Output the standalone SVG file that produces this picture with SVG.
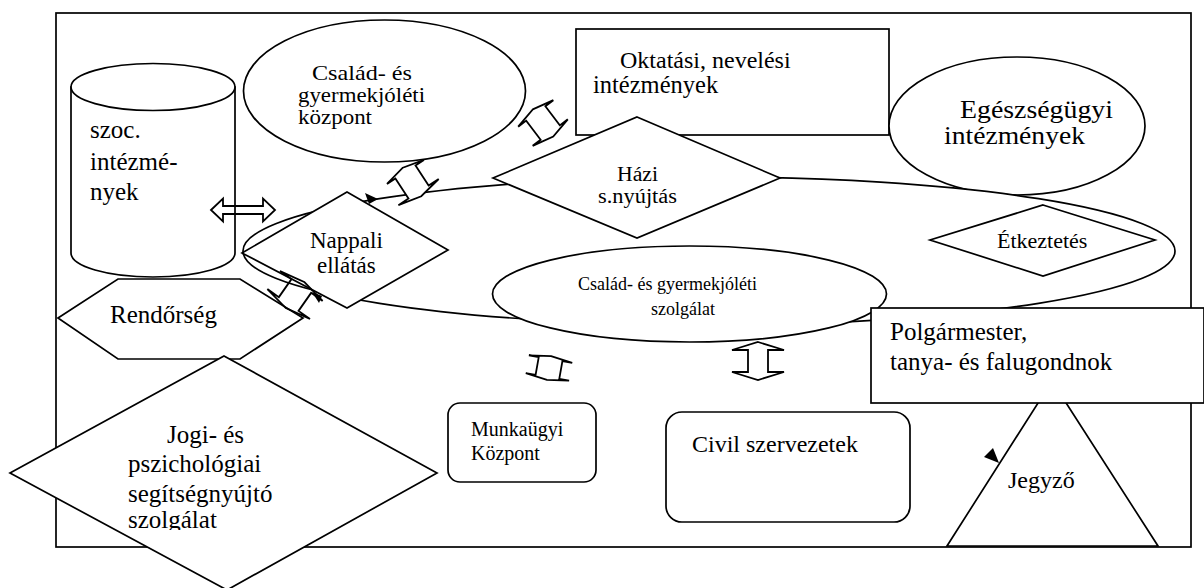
<svg xmlns="http://www.w3.org/2000/svg" width="1204" height="588" viewBox="0 0 1204 588">
<style>
.s{fill:#fff;stroke:#000;stroke-width:1.7}
.n{fill:none;stroke:#000;stroke-width:1.7}
.a{fill:#fff;stroke:#000;stroke-width:1.8;stroke-linejoin:miter}
.an{fill:none;stroke:#000;stroke-width:1.8}
.m{fill:#000;stroke:none}
text{font-family:"Liberation Serif","Times New Roman",serif;fill:#000}
</style>
<defs>
<clipPath id="jogiclip"><rect x="0" y="0" width="1204" height="530"/></clipPath>
</defs>
<rect id="frame" x="56" y="13" width="1135" height="534" class="n"/>
<g id="szoc">
<path class="s" d="M71,87 L71,253 A82,24 0 0,0 235,253 L235,87 Z"/>
<ellipse class="s" cx="153" cy="87" rx="82" ry="23.5"/>
<text x="90" y="138" font-size="25">szoc.</text>
<text x="90" y="170" font-size="25">intézmé-</text>
<text x="90" y="200" font-size="25">nyek</text>
</g>
<g id="csgyk">
<ellipse class="s" cx="384.5" cy="91" rx="141" ry="71"/>
<text x="312" y="80" font-size="21" textLength="100" lengthAdjust="spacingAndGlyphs">Család- és</text>
<text x="298" y="102" font-size="21" textLength="127" lengthAdjust="spacingAndGlyphs">gyermekjóléti</text>
<text x="298" y="124" font-size="21" textLength="74" lengthAdjust="spacingAndGlyphs">központ</text>
</g>
<g id="oktatasi">
<rect class="s" x="576" y="29" width="313" height="106"/>
<text x="620" y="68" font-size="24">Oktatási, nevelési</text>
<text x="593" y="93" font-size="24.5">intézmények</text>
</g>
<g id="egeszseg">
<ellipse class="s" cx="1017" cy="126" rx="128" ry="69"/>
<text x="960" y="118" font-size="26" textLength="153" lengthAdjust="spacingAndGlyphs">Egészségügyi</text>
<text x="944" y="144" font-size="26" textLength="141" lengthAdjust="spacingAndGlyphs">intézmények</text>
</g>
<g id="nagy">
<ellipse class="s" cx="709" cy="251" rx="466" ry="74"/>
</g>
<g id="csgysz">
<ellipse class="s" cx="689.5" cy="294" rx="197" ry="48"/>
<text x="578" y="290" font-size="18">Család- és gyermekjóléti</text>
<text x="651" y="315" font-size="18">szolgálat</text>
</g>
<g id="nappali">
<polygon class="s" points="347,192 448,250 347,308 242,253"/>
<text x="310" y="248" font-size="23">Nappali</text>
<text x="317" y="273" font-size="23">ellátás</text>
</g>
<g id="hazi">
<polygon class="s" points="637,117 780,178 637,238 493,178"/>
<text x="617" y="181" font-size="20" textLength="41" lengthAdjust="spacingAndGlyphs">Házi</text>
<text x="598" y="203" font-size="20" textLength="79" lengthAdjust="spacingAndGlyphs">s.nyújtás</text>
</g>
<g id="etkeztetes">
<polygon class="s" points="1043,205 1155,240 1043,276 930,240"/>
<text x="997" y="248" font-size="22">Étkeztetés</text>
</g>
<g id="rendorseg">
<polygon class="s" points="58,318 118,279 240,279 303,318 240,359 118,359"/>
<text x="110" y="323" font-size="25">Rendőrség</text>
</g>
<g id="jogi">
<polygon class="s" points="224,356 437,473 227,590 10,473"/>
<g clip-path="url(#jogiclip)">
<text x="167" y="443" font-size="25">Jogi- és</text>
<text x="128" y="472" font-size="25">pszichológiai</text>
<text x="128" y="502" font-size="25">segítségnyújtó</text>
<text x="128" y="528" font-size="25">szolgálat</text>
</g>
</g>
<g id="munkaugyi">
<rect class="s" x="448" y="403" width="148" height="79" rx="12"/>
<text x="471" y="436" font-size="20">Munkaügyi</text>
<text x="471" y="460" font-size="20">Központ</text>
</g>
<g id="civil">
<rect class="s" x="666" y="412" width="244" height="110" rx="16"/>
<text x="692" y="452" font-size="24">Civil szervezetek</text>
</g>
<g id="jegyzo">
<polygon class="s" points="1052,381 1158,546 947,546"/>
<text x="1008" y="488" font-size="24">Jegyző</text>
</g>
<g id="polgarmester">
<rect class="s" x="871" y="308" width="333" height="95"/>
<text x="890" y="340" font-size="25">Polgármester,</text>
<text x="890" y="370" font-size="25">tanya- és falugondnok</text>
</g>
<g id="connectors">
<path class="an" transform="translate(243,210)" d="M-32,0 L-20,-11.5 L-20,-4 L20,-4 L20,-11.5 L32,0 L20,11.5 L20,4 L-20,4 L-20,11.5 Z"/>
<path class="a" transform="translate(412,182) rotate(-33)" d="M0,-17 L22,-12 L12,-12 L12,12 L24,12 L0,17 L-24,12 L-12,12 L-12,-12 L-22,-12 Z"/>
<path class="a" transform="translate(543,123) rotate(-37)" d="M0,-17 L22,-12 L12,-12 L12,12 L22,12 L0,17 L-22,12 L-12,12 L-12,-12 L-22,-12 Z"/>
<path class="an" transform="translate(295,295) rotate(35)" d="M0,-16 L26,-11 L12,-11 L12,11 L26,11 L0,16 L-26,11 L-12,11 L-12,-11 L-26,-11 Z"/>
<path class="a" transform="translate(549,368) rotate(10)" d="M0,-12 L22,-9 L12,-9 L12,9 L22,9 L0,12 L-22,9 L-12,9 L-12,-9 L-22,-9 Z"/>
<path class="a" transform="translate(758,361)" d="M0,-19 L26,-11 L10,-11 L10,11 L26,11 L0,19 L-26,11 L-10,11 L-10,-11 L-26,-11 Z"/>
<polygon class="m" points="365,193 378,199 369,204"/>
<polygon class="m" points="312,292 322,296 319,303"/>
<polygon class="m" points="984,457 993,448 999,463"/>
</g>
</svg>
